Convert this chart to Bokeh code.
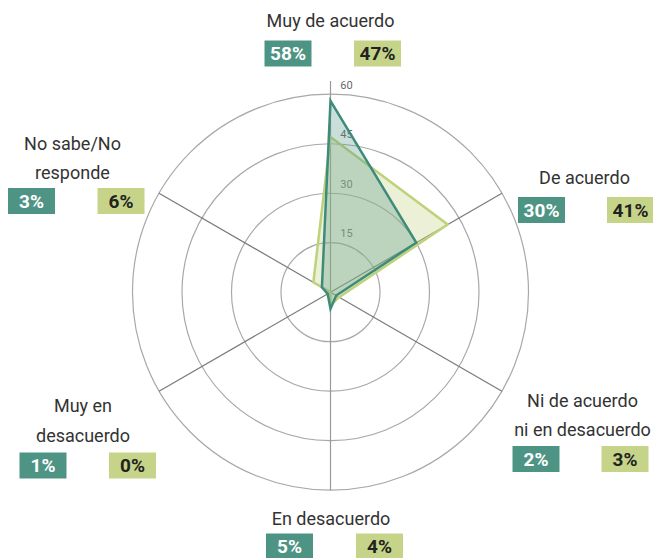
import math
from bokeh.plotting import figure
from bokeh.models import Range1d
from bokeh.core.properties import value
from bokeh.embed import file_html
from bokeh.resources import INLINE

# ---- data ----
categories = ["Muy de acuerdo", "De acuerdo", "Ni de acuerdo\nni en desacuerdo",
              "En desacuerdo", "Muy en\ndesacuerdo", "No sabe/No\nresponde"]
serie_a = [58, 30, 2, 5, 1, 3]      # teal
serie_b = [47, 41, 3, 4, 0, 6]      # light green
ring_ticks = [15, 30, 45, 60]
tick_labels = ["15", "30", "45", "60"]

# ---- layout (pixels of the picture) ----
CX, CY, S = 330.0, 291.7, 3.3
W, H = 653, 558
OFF = 0
label_pos = [(330, 20), (584, 177), (582, 414.5), (330.5, 518), (82.5, 420), (72, 157.5)]
box_pos = [(287.5, 377, 53), (541, 630, 209.5), (535.5, 624.5, 458.5),
           (289, 379, 546), (42.5, 132, 465), (31, 120.5, 200.5)]
BOX_W, BOX_H = 47, 26

TEAL = "#4e9484"
TEAL_LINE = "#3e8b7b"
GREEN = "#c6d48a"
GREEN_LINE = "#bdd27a"


def dx(sx):
    return (sx - CX) / S


def dy(sy):
    return (CY - sy) / S


p = figure(width=W, height=H, output_backend="svg", toolbar_location=None,
           x_range=Range1d(dx(OFF), dx(OFF + W)), y_range=Range1d(dy(OFF + H), dy(OFF)),
           min_border=0)
p.axis.visible = False
p.grid.visible = False
p.outline_line_color = None
p.background_fill_color = "white"

n = len(categories)
angles = [math.pi / 2 - 2 * math.pi * i / n for i in range(n)]

# rings
for r in ring_ticks:
    p.circle(x=[0], y=[0], radius=r, fill_color=None, line_color="#a8a8a8", line_width=1.2)

# spokes
rmax = max(ring_ticks)
for i, a in enumerate(angles):
    ext = rmax + 4 if i == 0 else rmax
    col = "#9a9a9a" if i in (0, 3) else "#7a7a7a"
    p.line([0, ext * math.cos(a)], [0, ext * math.sin(a)], line_color=col, line_width=1.2)

# tick labels
p.text(x=[dx(346)] * len(ring_ticks), y=[r + 2.8 for r in ring_ticks], text=tick_labels,
       text_align="center", text_baseline="middle", text_font=value("Roboto"),
       text_font_size="11px", text_color="#666666")

# series polygons
for vals, fc, lc, fa in ((serie_b, GREEN, GREEN_LINE, 0.35), (serie_a, TEAL, TEAL_LINE, 0.3)):
    xs = [v * math.cos(a) for v, a in zip(vals, angles)]
    ys = [v * math.sin(a) for v, a in zip(vals, angles)]
    p.patch(xs, ys, fill_color=fc, fill_alpha=fa, line_color=lc, line_width=2.5,
            line_join="miter")

# category labels
p.text(x=[dx(x) for x, _ in label_pos], y=[dy(y) for _, y in label_pos], text=categories,
       text_align="center", text_baseline="middle", text_font=value("Roboto"),
       text_font_size="18px", text_color="#333333", text_line_height=1.4)

# value boxes
p.rect(x=[dx(b[0]) for b in box_pos], y=[dy(b[2]) for b in box_pos],
       width=BOX_W, height=BOX_H, width_units="screen", height_units="screen",
       fill_color=TEAL, line_color=None)
p.rect(x=[dx(b[1]) for b in box_pos], y=[dy(b[2]) for b in box_pos],
       width=BOX_W, height=BOX_H, width_units="screen", height_units="screen",
       fill_color=GREEN, line_color=None)
p.text(x=[dx(b[0]) for b in box_pos], y=[dy(b[2]) for b in box_pos],
       text=[f"{v}%" for v in serie_a], text_align="center", text_baseline="middle",
       text_font=value("Roboto"), text_font_style="bold", text_font_size="19px",
       text_color="white")
p.text(x=[dx(b[1]) for b in box_pos], y=[dy(b[2]) for b in box_pos],
       text=[f"{v}%" for v in serie_b], text_align="center", text_baseline="middle",
       text_font=value("Roboto"), text_font_style="bold", text_font_size="19px",
       text_color="#222222")

open("out.html", "w").write(file_html(p, INLINE))
